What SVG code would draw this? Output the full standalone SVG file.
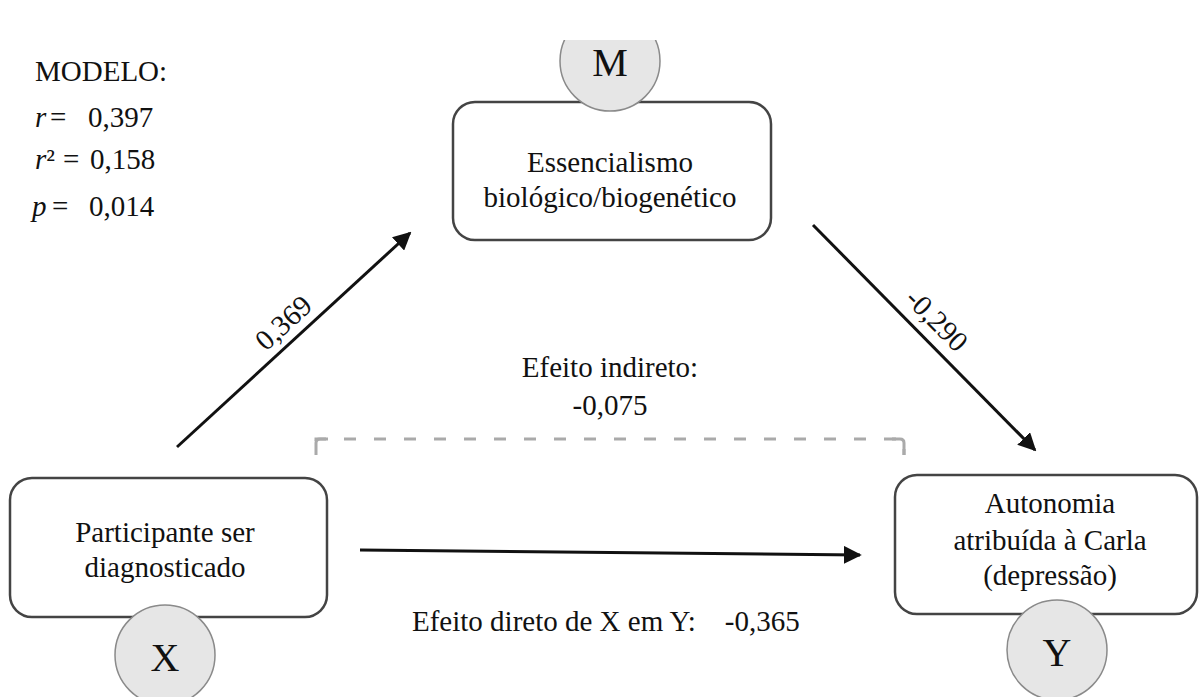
<svg xmlns="http://www.w3.org/2000/svg" width="1200" height="697" viewBox="0 0 1200 697">
<style>
.t{font-family:'Liberation Serif','DejaVu Serif','Noto Serif',serif;font-size:29px;fill:#111}
.c{text-anchor:middle}
.box{fill:#fff;stroke:#444;stroke-width:2.5}
.circ{fill:#e6e6e6;stroke:#8a8a8a;stroke-width:1.5}
.let{font-family:'Liberation Serif','DejaVu Serif','Noto Serif',serif;font-size:40px;fill:#111;text-anchor:middle}
.arr{stroke:#111;stroke-width:3;fill:none;marker-end:url(#ah)}
.dash{stroke:#aaa;stroke-width:3;fill:none}
</style>
<defs>
<marker id="ah" viewBox="0 0 10 10" refX="9" refY="5" markerWidth="6" markerHeight="6" markerUnits="strokeWidth" orient="auto">
<path d="M0,0 L10,5 L0,10 Z" fill="#111"/>
</marker>
<clipPath id="topclip"><rect x="0" y="40" width="1200" height="657"/></clipPath>
</defs>
<rect width="1200" height="697" fill="#fff"/>

<g id="model-stats">
<text class="t" x="35" y="81">MODELO:</text>
<text class="t" y="127"><tspan x="35" font-style="italic">r</tspan><tspan x="50">=</tspan><tspan x="88">0,397</tspan></text>
<text class="t" y="169"><tspan x="35" font-style="italic">r</tspan><tspan>²</tspan><tspan x="63">=</tspan><tspan x="90">0,158</tspan></text>
<text class="t" y="216"><tspan x="32" font-style="italic">p</tspan><tspan x="52">=</tspan><tspan x="89">0,014</tspan></text>
</g>

<g id="connectors">
<line class="arr" x1="177" y1="447" x2="410" y2="233"/>
<line class="arr" x1="813" y1="225" x2="1035" y2="450"/>
<line class="arr" x1="360" y1="550" x2="860" y2="555"/>
<polyline class="dash" points="316,455 316,439 904,439 904,455" stroke-dasharray="12,18" stroke-dashoffset="-14"/>
<path class="dash" d="M316,455 L316,443 Q316,439 320,439 L328,439 M892,439 L900,439 Q904,439 904,443 L904,455"/>
<text class="t" transform="translate(290,330) rotate(-42.5)" text-anchor="middle">0,369</text>
<text class="t" transform="translate(930,327) rotate(45.4)" text-anchor="middle">-0,290</text>
<text class="t c" x="610" y="377">Efeito indireto:</text>
<text class="t c" x="610" y="415">-0,075</text>
<text class="t" x="412" y="631" xml:space="preserve">Efeito direto de X em Y:    -0,365</text>
</g>

<g id="node-M">
<rect class="box" x="453" y="102" width="318" height="138" rx="22"/>
<circle class="circ" cx="610" cy="61" r="50" clip-path="url(#topclip)"/>
<text class="let" x="610" y="76">M</text>
<text class="t c" x="610" y="172">Essencialismo</text>
<text class="t c" x="610" y="207">biológico/biogenético</text>
</g>

<g id="node-X">
<rect class="box" x="10" y="478" width="317" height="139" rx="22"/>
<circle class="circ" cx="165" cy="655" r="50"/>
<text class="let" x="165" y="671">X</text>
<text class="t c" x="165" y="542">Participante ser</text>
<text class="t c" x="165" y="577">diagnosticado</text>
</g>

<g id="node-Y">
<rect class="box" x="895" y="475" width="302" height="139" rx="22"/>
<circle class="circ" cx="1057" cy="650" r="50"/>
<text class="let" x="1057" y="666">Y</text>
<text class="t c" x="1050" y="513">Autonomia</text>
<text class="t c" x="1050" y="550">atribuída à Carla</text>
<text class="t c" x="1050" y="585">(depressão)</text>
</g>
</svg>
